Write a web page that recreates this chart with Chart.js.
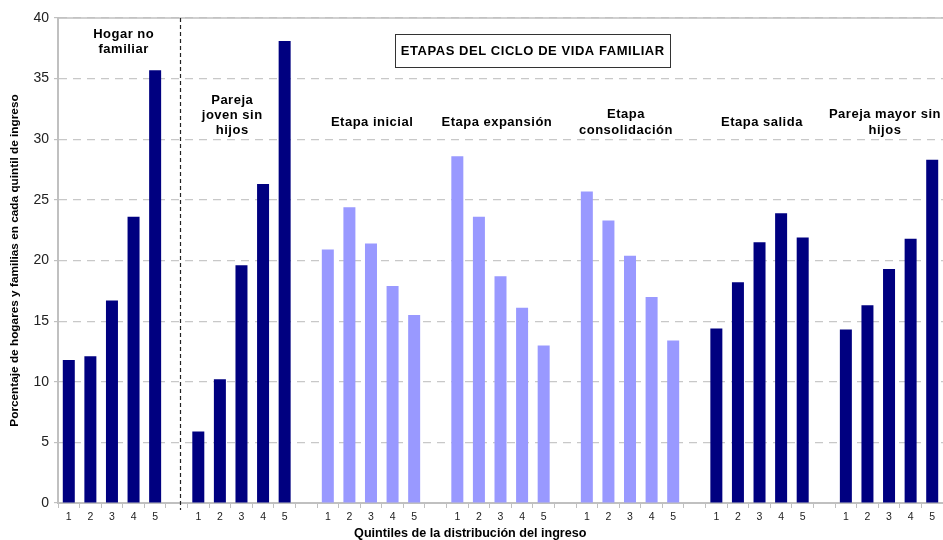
<!DOCTYPE html>
<html>
<head>
<meta charset="utf-8">
<script src="https://cdn.jsdelivr.net/npm/chart.js@4.4.0/dist/chart.umd.min.js"></script>
<style>
  html, body { margin: 0; padding: 0; background: #fff; }
  #wrap { width: 943px; height: 540px; position: relative; }
</style>
</head>
<body>
<div id="wrap"><canvas id="c" width="943" height="540"></canvas></div>
<script>
// ---- data ----
const quintiles = ['1', '2', '3', '4', '5'];
const hogarNoFamiliar    = [11.8, 12.1, 16.7, 23.6, 35.7];
const parejaJovenSinHijos = [5.9, 10.2, 19.6, 26.3, 38.1];
const etapaInicial       = [20.9, 24.4, 21.4, 17.9, 15.5];
const etapaExpansion     = [28.6, 23.6, 18.7, 16.1, 13.0];
const etapaConsolidacion = [25.7, 23.3, 20.4, 17.0, 13.4];
const etapaSalida        = [14.4, 18.2, 21.5, 23.9, 21.9];
const parejaMayorSinHijos = [14.3, 16.3, 19.3, 21.8, 28.3];
const groupNames = [['Hogar no', 'familiar'], ['Pareja', 'joven sin', 'hijos'], ['Etapa inicial'],
  ['Etapa expansión'], ['Etapa', 'consolidación'], ['Etapa salida'], ['Pareja mayor sin', 'hijos']];
const yTicks = [0, 5, 10, 15, 20, 25, 30, 35, 40];
const chartTitle = 'ETAPAS DEL CICLO DE VIDA FAMILIAR';
const xTitle = 'Quintiles de la distribución del ingreso';
const yTitle = 'Porcentaje de hogares y familias en cada quintil de ingreso';

// ---- styles ----
const DARK = '#000080', LIGHT = '#9999FF';
const groups = [hogarNoFamiliar, parejaJovenSinHijos, etapaInicial, etapaExpansion,
  etapaConsolidacion, etapaSalida, parejaMayorSinHijos];
const groupColors = [DARK, DARK, LIGHT, LIGHT, LIGHT, DARK, DARK];
// label placement: fractional category index and line offsets from chart top
const labelPos = [
  { at: 2.53, ys: [16, 31] },
  { at: 7.56, ys: [82, 97, 112] },
  { at: 14.04, ys: [104] },
  { at: 19.82, ys: [104] },
  { at: 25.8, ys: [96, 112] },
  { at: 32.1, ys: [104] },
  { at: 37.8, ys: [96, 112] }
];

const labels = [], values = [], colors = [];
groups.forEach((g, gi) => {
  if (gi > 0) { labels.push(''); values.push(null); colors.push('rgba(0,0,0,0)'); }
  g.forEach((v, i) => { labels.push(quintiles[i]); values.push(v); colors.push(groupColors[gi]); });
});

const FONT = 'Liberation Sans, Arial, sans-serif';

function spacedText(ctx, t, x, y, sp) {
  // centre text drawn with letter spacing
  if ('letterSpacing' in ctx) {
    ctx.letterSpacing = sp + 'px';
    ctx.fillText(t, x + sp / 2, y);
    ctx.letterSpacing = '0px';
  } else {
    ctx.fillText(t, x, y);
  }
}

const overlay = {
  id: 'overlay',
  afterDraw(chart) {
    const { ctx, chartArea: a, scales: { x: xs } } = chart;
    const x0 = xs.getPixelForValue(0), step = xs.getPixelForValue(1) - x0;
    const px = idx => x0 + idx * step;
    ctx.save();
    // top border (solid)
    ctx.strokeStyle = '#c0c0c0'; ctx.lineWidth = 1.5;
    ctx.beginPath(); ctx.moveTo(a.left, a.top); ctx.lineTo(a.right, a.top); ctx.stroke();
    // dashed separator
    ctx.strokeStyle = '#222'; ctx.lineWidth = 1.2; ctx.setLineDash([4, 3]);
    const sx = Math.round(px(5.15)) + 0.5;
    ctx.beginPath(); ctx.moveTo(sx, a.top); ctx.lineTo(sx, a.bottom + 7); ctx.stroke();
    ctx.setLineDash([]);
    // group labels
    ctx.fillStyle = '#000'; ctx.font = 'bold 13px ' + FONT;
    ctx.textAlign = 'center'; ctx.textBaseline = 'middle';
    groupNames.forEach((lines, i) => {
      const p = labelPos[i];
      lines.forEach((t, j) => spacedText(ctx, t, px(p.at), a.top + p.ys[j], 0.5));
    });
    // title box
    const bx0 = px(15.11), bx1 = px(27.85);
    ctx.fillStyle = '#fff'; ctx.fillRect(bx0, a.top + 16, bx1 - bx0, 33);
    ctx.strokeStyle = '#333'; ctx.lineWidth = 1;
    ctx.strokeRect(Math.round(bx0) + 0.5, a.top + 16.5, Math.round(bx1 - bx0), 33);
    ctx.fillStyle = '#000';
    ctx.font = 'bold 13px ' + FONT;
    spacedText(ctx, chartTitle, (bx0 + bx1) / 2, a.top + 33, 0.55);
    // x title
    ctx.font = 'bold 12.6px ' + FONT;
    ctx.fillText(xTitle, px(18.6), a.bottom + 31);
    ctx.restore();
  }
};

new Chart(document.getElementById('c'), {
  type: 'bar',
  data: {
    labels: labels,
    datasets: [{ data: values, backgroundColor: colors, barPercentage: 0.556, categoryPercentage: 1.0 }]
  },
  options: {
    responsive: false,
    animation: false,
    layout: { padding: { top: 18, right: 0, left: 0, bottom: 0 } },
    plugins: { legend: { display: false }, tooltip: { enabled: false } },
    scales: {
      x: {
        afterFit: s => { s.height = 37; },
        grid: { drawOnChartArea: false, drawTicks: true, tickLength: 5, color: '#c0c0c0', offset: true },
        border: { color: '#c0c0c0', width: 2 },
        ticks: { font: { family: FONT, size: 10.5 }, color: '#222', padding: 3, maxRotation: 0, autoSkip: false }
      },
      y: {
        min: 0, max: 40,
        afterFit: s => { s.width = 58; },
        afterBuildTicks: s => { s.ticks = yTicks.map(v => ({ value: v })); },
        grid: { color: '#c8c8c8', lineWidth: 1.2, tickLength: 4, tickColor: '#c0c0c0' },
        border: { color: '#c0c0c0', width: 2, dash: [8, 6] },
        ticks: { font: { family: FONT, size: 14 }, color: '#222', padding: 5 },
        title: { display: true, text: yTitle, font: { family: FONT, size: 11.8, weight: 'bold' }, color: '#000', padding: { top: 8, bottom: 0 } }
      }
    }
  },
  plugins: [overlay]
});
</script>
</body>
</html>
